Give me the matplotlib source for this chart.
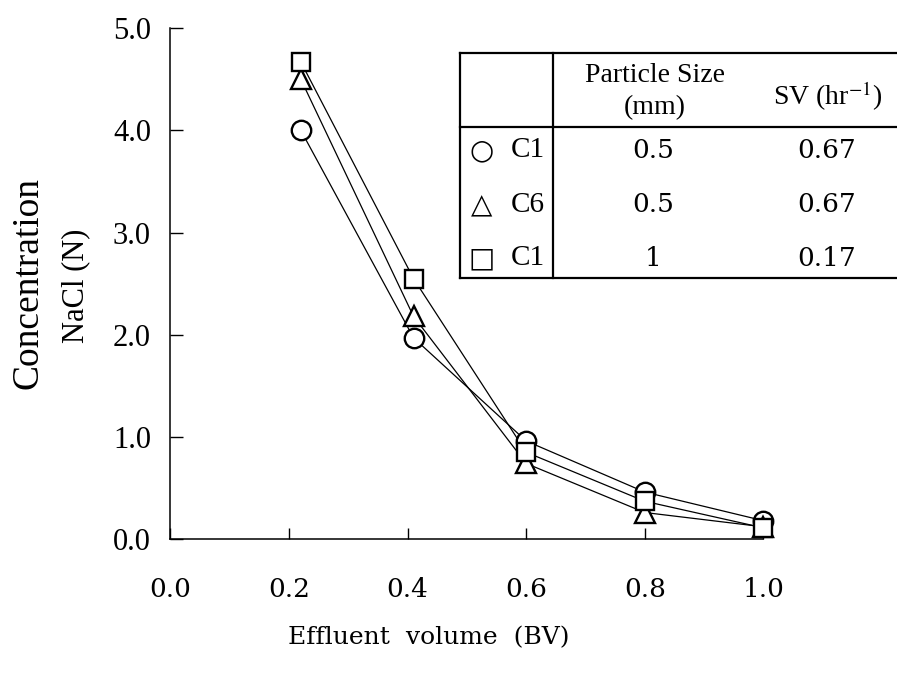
import matplotlib
matplotlib.use("Agg")
import matplotlib.pyplot as plt
from matplotlib.lines import Line2D

plt.rcParams['mathtext.fontset'] = 'stix'

# effluent volume (BV) and NaCl concentration (N)
bv = [0.22, 0.41, 0.6, 0.8, 1.0]
c1_05 = [4.0, 1.97, 0.96, 0.46, 0.18]
c6_05 = [4.5, 2.18, 0.74, 0.26, 0.12]
c1_1 = [4.67, 2.55, 0.85, 0.37, 0.11]

series = [c1_05, c6_05, c1_1]
markers = ['o', '^', 's']
msizes = [14, 15, 13.5]

resin = ['C1', 'C6', 'C1']
symbols = ['\u25cb', '\u25b3', '\u25a1']
psize = ['0.5', '0.5', '1']
sv = ['0.67', '0.67', '0.17']

xticks = [0.0, 0.2, 0.4, 0.6, 0.8, 1.0]
yticks = [0.0, 1.0, 2.0, 3.0, 4.0, 5.0]

serif = 'Liberation Serif'
wide = 'DejaVu Serif'

fig = plt.figure(figsize=(8.97, 6.73), dpi=100)
ax = fig.add_axes([0.19, 0.199, 0.661, 0.759])

# lines first, open markers on top
for ys in series:
    ax.plot(bv, ys, color='black', lw=0.9, zorder=2)
for ys, m, ms in zip(series, markers, msizes):
    ax.plot(bv, ys, ls='none', marker=m, ms=ms, mfc='white', mec='black',
            mew=1.7, zorder=3, clip_on=False)

ax.set_xlim(0, 1.0)
ax.set_ylim(0, 5.0)
ax.spines['top'].set_visible(False)
ax.spines['right'].set_visible(False)
for s in ['left', 'bottom']:
    ax.spines[s].set_linewidth(1.1)

ax.set_xticks(xticks)
ax.set_xticklabels([f'{v:.1f}' for v in xticks], fontfamily=wide, fontsize=19)
ax.set_yticks(yticks)
ax.set_yticklabels([f'{v:.1f}' for v in yticks], fontfamily=serif, fontsize=22)
ax.tick_params(axis='x', direction='in', length=8, width=1, pad=27)
ax.tick_params(axis='y', direction='in', length=9, width=1, pad=14)

ax.set_xlabel('Effluent  volume  (BV)', fontfamily=wide, fontsize=18)
ax.xaxis.set_label_coords(0.435, -0.17)

fig.text(0.031, 0.58, 'Concentration', rotation=90, ha='center', va='center',
         fontfamily=serif, fontsize=27)
fig.text(0.084, 0.575, 'NaCl (N)', rotation=90, ha='center', va='center',
         fontfamily=serif, fontsize=22)

# legend table, upper right
def fx(px):
    return px / 897.0

def fy(py):
    return 1 - py / 673.0

lw = 1.6
for (x0, y0, x1, y1) in [(460, 53, 897, 53), (460, 127, 897, 127),
                         (460, 278, 897, 278), (460, 53, 460, 278),
                         (553, 53, 553, 278)]:
    fig.add_artist(Line2D([fx(x0), fx(x1)], [fy(y0), fy(y1)], color='black', lw=lw))

fig.text(fx(655), fy(76), 'Particle Size', ha='center', va='center',
         fontfamily=serif, fontsize=20)
fig.text(fx(655), fy(108), '(mm)', ha='center', va='center',
         fontfamily=serif, fontsize=20)
fig.text(fx(828), fy(96), 'SV (hr$^{\\mathrm{-1}}$)', ha='center', va='center',
         fontfamily=serif, fontsize=20)

row_y = [150, 205, 258]
for ry, sym, r, p, s in zip(row_y, symbols, resin, psize, sv):
    fig.text(fx(482), fy(ry), sym, ha='center', va='center',
             fontfamily='DejaVu Sans', fontsize=20)
    fig.text(fx(528), fy(ry), r, ha='center', va='center',
             fontfamily=serif, fontsize=21)
    fig.text(fx(653), fy(ry), p, ha='center', va='center',
             fontfamily=wide, fontsize=19)
    fig.text(fx(827), fy(ry), s, ha='center', va='center',
             fontfamily=wide, fontsize=19)

fig.savefig('out.png', dpi=100)
